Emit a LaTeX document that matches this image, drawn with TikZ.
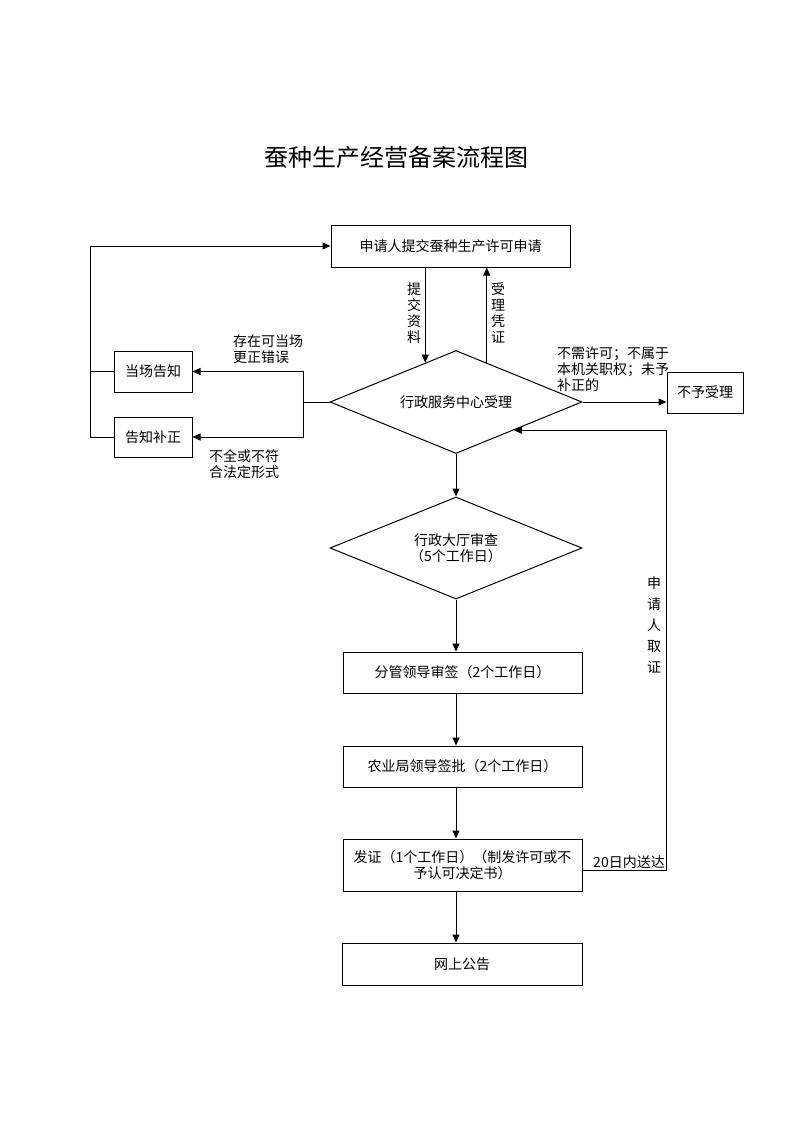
\documentclass[tikz,border=0pt]{standalone}
\usepackage{fontspec}
\newfontfamily\cjk{Noto Sans CJK SC}
\usetikzlibrary{shapes.geometric,arrows.meta}

\begin{document}
\begin{tikzpicture}[x=1pt,y=-1pt,
  txt/.style={font={\cjk\fontsize{14pt}{16pt}\selectfont}, inner sep=0pt},
  box/.style={txt, draw, line width=1pt, align=center},
  choice/.style={txt, draw, line width=1pt, diamond, aspect=2.45, align=center},
  arr/.style={line width=1pt, -{Triangle[length=8pt,width=7pt]}},
  line/.style={line width=1pt}
  ]
  \useasboundingbox (0,0) rectangle (793,1122);
  \node[font={\cjk\fontsize{24pt}{28pt}\selectfont}] (title) at (396,157) {蚕种生产经营备案流程图};

  % main column
  \node[box, minimum width=239pt, minimum height=42pt] (apply) at (450.5,246) {申请人提交蚕种生产许可申请};
  \node[choice, minimum width=252pt, minimum height=103pt] (center) at (456,402) {行政服务中心受理};
  \node[choice, minimum width=252pt, minimum height=102pt] (hall) at (456,548) {行政大厅审查\\（5个工作日）};
  \node[box, minimum width=239pt, minimum height=41pt] (leader) at (462.5,672.5) {分管领导审签（2个工作日）};
  \node[box, minimum width=239pt, minimum height=41pt] (bureau) at (462.5,766.5) {农业局领导签批（2个工作日）};
  \node[box, minimum width=239pt, minimum height=52pt] (issue) at (462.5,865) {发证（1个工作日）（制发许可或不\\予认可决定书）};
  \node[box, minimum width=240pt, minimum height=42pt] (publish) at (462,964) {网上公告};

  % side boxes
  \node[box, minimum width=78pt, minimum height=41pt] (notice) at (153,371.5) {当场告知};
  \node[box, minimum width=78pt, minimum height=40pt] (fix) at (153,437) {告知补正};
  \node[box, minimum width=76pt, minimum height=41pt] (reject) at (705,392.5) {不予受理};

  % labels
  \node[txt, align=center] (submit) at (414,313) {提\\交\\资\\料};
  \node[txt, align=center] (receipt) at (498,313) {受\\理\\凭\\证};
  \node[txt, align=left, anchor=west] (lbl1) at (233,349) {存在可当场\\更正错误};
  \node[txt, align=left, anchor=west] (lbl2) at (209,464.5) {不全或不符\\合法定形式};
  \node[txt, align=left, anchor=west] (lbl3) at (557,369) {不需许可；不属于\\本机关职权；未予\\补正的};
  \node[txt, align=center, font={\cjk\fontsize{14pt}{21pt}\selectfont}] (fetch) at (654,625) {申\\请\\人\\取\\证};
  \node[txt] (deliver) at (629,862) {20日内送达};

  % connectors
  \draw[arr] (apply.south -| center.128) -- (center.128);
  \draw[arr] (center.52) -- (apply.south -| center.52);
  \draw[arr] (center.east) -- (center.east -| reject.west);
  \draw[arr] (center.south) -- (hall.north);
  \draw[arr] (hall.south) -- (hall.south |- leader.north);
  \draw[arr] (hall.south |- leader.south) -- (hall.south |- bureau.north);
  \draw[arr] (hall.south |- bureau.south) -- (hall.south |- issue.north);
  \draw[arr] (hall.south |- issue.south) -- (hall.south |- publish.north);
  \draw[arr] ([yshift=-5pt]issue.east) -| (reject.west |- center.-26) -- (center.-26);

  \draw[line] (center.west) -- ++(-26,0) coordinate (split);
  \draw[line] (split |- notice.east) -- (split |- fix.east);
  \draw[arr] (split |- notice.east) -- (notice.east);
  \draw[arr] (split |- fix.east) -- (fix.east);
  \draw[arr] (fix.west) -- ++(-23,0) coordinate (back) |- (apply.west);
  \draw[line] (notice.west) -- (notice.west -| back);
\end{tikzpicture}
\end{document}
